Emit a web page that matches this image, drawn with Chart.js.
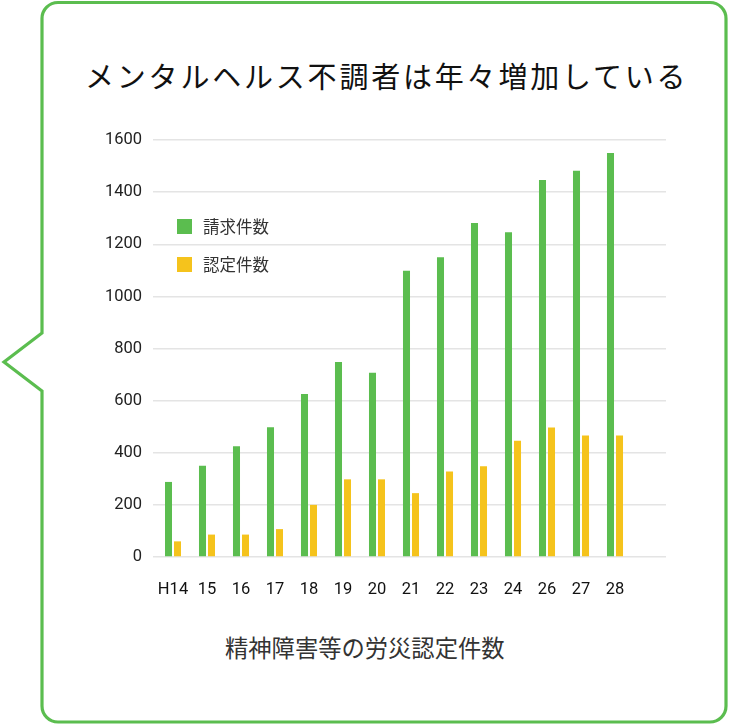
<!DOCTYPE html>
<html lang="ja">
<head>
    <meta charset="UTF-8">
    <title>メンタルヘルス不調者は年々増加している</title>
    <style>
        html, body {
            margin: 0;
            padding: 0;
            background: #fff;
        }
        #wrap {
            position: relative;
            width: 730px;
            height: 726px;
            overflow: hidden;
            font-family: "Noto Sans CJK JP", "Noto Sans", sans-serif;
        }
        #bubble {
            position: absolute;
            left: 0;
            top: 0;
        }
        #chartBox {
            position: absolute;
            left: 0;
            top: 0;
            width: 730px;
            height: 600px;
        }
        #title {
            position: absolute;
            left: 85px;
            top: 56px;
            font-size: 29px;
            line-height: 38px;
            letter-spacing: 2.8px;
            color: #111;
            white-space: nowrap;
        }
        #caption {
            position: absolute;
            left: 225px;
            top: 632px;
            font-size: 23.3px;
            line-height: 30px;
            color: #333;
            white-space: nowrap;
        }
        #legend {
            position: absolute;
            left: 177px;
            top: 215px;
        }
        .item {
            display: flex;
            align-items: center;
            height: 22px;
            margin-bottom: 16px;
            font-size: 16.5px;
            color: #333;
        }
        .box {
            width: 15px;
            height: 15px;
            margin-right: 11px;
        }
    </style>
    <script src="https://cdn.jsdelivr.net/npm/chart.js@4"></script>
</head>
<body>
<div id="wrap">
    <svg id="bubble" width="730" height="726">
        <path d="M42 333 V18.5 A16 16 0 0 1 58 2.5 H710 A16 16 0 0 1 726 18.5 V706 A16 16 0 0 1 710 722 H58 A16 16 0 0 1 42 706 V391 L4 362 Z"
              fill="#fff" stroke="#5bbd4f" stroke-width="3.2"/>
    </svg>
    <div id="title">メンタルヘルス不調者は年々増加している</div>
    <div id="chartBox"><canvas id="chart"></canvas></div>
    <div id="legend"></div>
    <div id="caption">精神障害等の労災認定件数</div>
</div>
<script>
    // 年度（H25 は元の図にない）。最後の空欄は右側の余白ぶん
    const years = ['H14', '15', '16', '17', '18', '19', '20', '21', '22', '23', '24', '26', '27', '28', ''];
    const claims = [288, 350, 425, 498, 625, 748, 707, 1098, 1150, 1282, 1246, 1447, 1482, 1550, null];
    const approved = [60, 86, 86, 107, 200, 298, 298, 245, 328, 348, 446, 497, 466, 466, null];
    const yTicks = [0, 200, 400, 600, 800, 1000, 1200, 1400, 1600];

    const green = '#5bbd4f';
    const yellow = '#f5c31c';
    const tickFont = { family: 'Roboto', size: 16.5 };

    const chart = new Chart(document.getElementById('chart'), {
        type: 'bar',
        data: {
            labels: years,
            datasets: [
                {
                    label: '請求件数',
                    data: claims,
                    backgroundColor: green
                },
                {
                    label: '認定件数',
                    data: approved,
                    backgroundColor: yellow
                }
            ]
        },
        options: {
            responsive: true,
            maintainAspectRatio: false,
            animation: false,
            categoryPercentage: 0.53,
            barPercentage: 0.78,
            layout: {
                padding: { left: 0, top: 140, right: 64, bottom: 0 }
            },
            plugins: {
                legend: { display: false },
                tooltip: { enabled: false }
            },
            scales: {
                x: {
                    grid: { display: false },
                    border: { display: false },
                    ticks: {
                        color: '#111',
                        font: tickFont,
                        padding: 15,
                        maxRotation: 0
                    },
                    afterFit: s => { s.height = 43; }
                },
                y: {
                    min: 0,
                    max: 1600,
                    afterBuildTicks: s => { s.ticks = yTicks.map(v => ({ value: v })); },
                    grid: {
                        color: '#e4e4e4',
                        lineWidth: 1.5,
                        drawTicks: true,
                        tickLength: 3
                    },
                    border: { display: false },
                    ticks: {
                        color: '#222',
                        font: tickFont,
                        padding: 11,
                        callback: v => String(v)
                    },
                    afterFit: s => { s.width = 156; }
                }
            }
        }
    });

    // 凡例はグラフの中に置く
    const legend = document.getElementById('legend');
    chart.data.datasets.forEach(ds => {
        const item = document.createElement('div');
        item.className = 'item';
        item.innerHTML = `<span class="box" style="background:${ds.backgroundColor}"></span>${ds.label}`;
        legend.appendChild(item);
    });
</script>
</body>
</html>
